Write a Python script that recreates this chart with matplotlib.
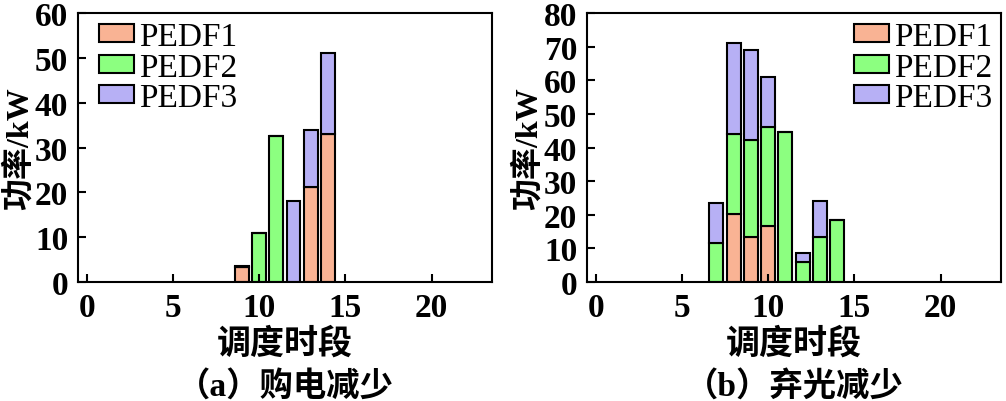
import numpy as np
import matplotlib.pyplot as plt

# data
periods_a = [9, 10, 11, 12, 13, 14]
pedf1_a = [3.3, 0, 0, 0, 21.3, 33.0]
pedf2_a = [0, 11.0, 32.5, 0, 0, 0]
pedf3_a = [0.3, 0, 0, 18.0, 12.7, 18.0]

periods_b = [7, 8, 9, 10, 11, 12, 13, 14]
pedf1_b = [0, 20.3, 13.3, 16.8, 0, 0, 0, 0]
pedf2_b = [11.5, 23.7, 29.0, 29.2, 44.5, 6.0, 13.5, 18.5]
pedf3_b = [12.0, 27.0, 26.7, 15.0, 0, 2.5, 10.5, 0]

labels = ['PEDF1', 'PEDF2', 'PEDF3']
colors = ['#F9B394', '#8CFF80', '#B7B0F5']
ylims = [60, 80]
xlabel = '调度时段'
ylabel = '功率/kW'
captions = ['（a）购电减少', '（b）弃光减少']

num_font = 'Liberation Serif'
mix_font = ['Liberation Serif', 'Noto Sans CJK SC']

fig = plt.figure(figsize=(10.06, 4.02), dpi=100)
ax_a = fig.add_axes([0.0775, 0.296, 0.4115, 0.669])
ax_b = fig.add_axes([0.5835, 0.296, 0.4115, 0.669])

panels = [
    (ax_a, periods_a, [pedf1_a, pedf2_a, pedf3_a], 'upper left', (0.05, 0.968)),
    (ax_b, periods_b, [pedf1_b, pedf2_b, pedf3_b], 'upper right', (0.978, 0.968)),
]

for i, (ax, x, series, loc, anchor) in enumerate(panels):
    x = np.array(x)
    bottom = np.zeros(len(x))
    for vals, lab, col in zip(series, labels, colors):
        vals = np.array(vals)
        ax.bar(x, vals, width=0.8, bottom=bottom, color=col,
               edgecolor='black', linewidth=1.5, label=lab)
        bottom = bottom + vals
    ax.set_xlim(-0.5, 23.5)
    ax.set_ylim(0, ylims[i])
    ax.set_xticks([0, 5, 10, 15, 20])
    ax.set_yticks(np.arange(0, ylims[i] + 1, 10))
    ax.tick_params(direction='in', length=6, width=1.5, labelsize=24, pad=7)
    for t in ax.get_xticklabels() + ax.get_yticklabels():
        t.set_family(num_font)
        t.set_weight('bold')
    for s in ax.spines.values():
        s.set_linewidth(1.5)
    ax.set_xlabel(xlabel, family=mix_font, fontsize=24.5, fontweight='bold', labelpad=3)
    ax.set_ylabel(ylabel, family=mix_font, fontsize=23, fontweight='bold', labelpad=0)
    ax.text(0.5, -0.387, captions[i], transform=ax.transAxes, ha='center', va='center',
            family=mix_font, fontsize=24, fontweight='bold')
    ax.legend(loc=loc, bbox_to_anchor=anchor, frameon=False,
              prop={'family': num_font, 'size': 24},
              handlelength=1.05, handleheight=0.45, handletextpad=0.15,
              labelspacing=0.0, borderaxespad=0.0, borderpad=0.0)

plt.savefig('out.png', dpi=100)
